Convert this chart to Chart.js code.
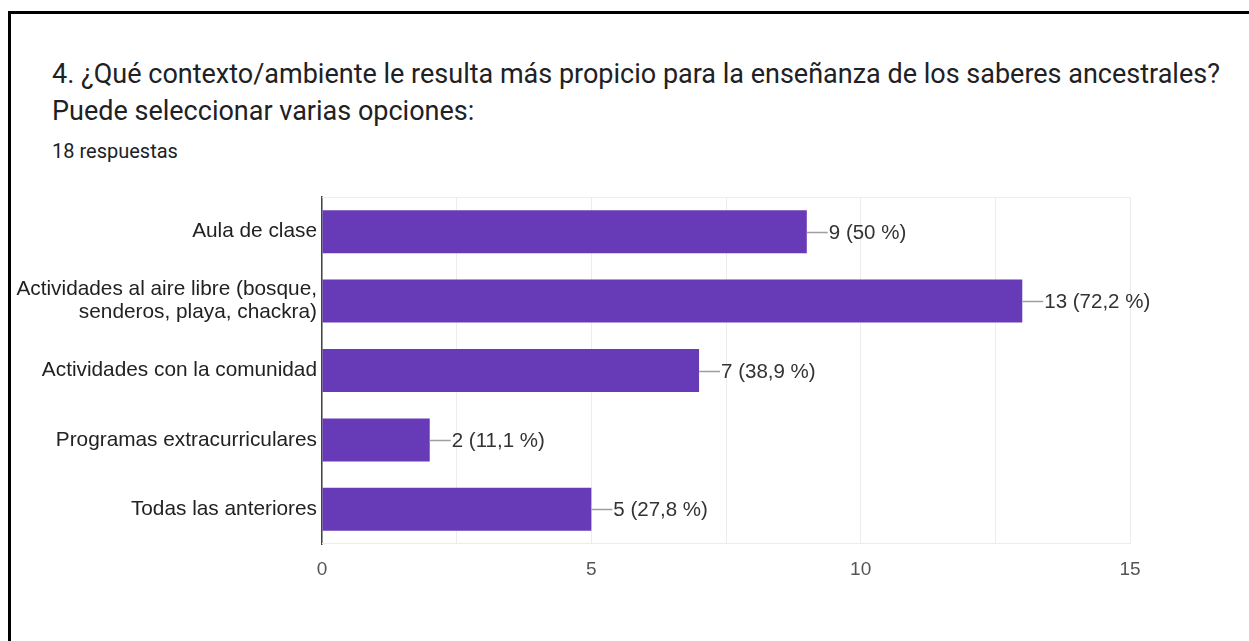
<!DOCTYPE html>
<html>
<head>
<meta charset="utf-8">
<script src="https://cdn.jsdelivr.net/npm/chart.js@4.4.1/dist/chart.umd.min.js"></script>
<style>
  html, body { margin: 0; padding: 0; background: #ffffff; }
  body { width: 1249px; height: 641px; position: relative; overflow: hidden; }
  #frame { position: absolute; left: 8px; top: 11px; width: 1300px; height: 700px;
           border-top: 3px solid #000; border-left: 3px solid #000; box-sizing: border-box; }
  .t { position: absolute; left: 52px; font-family: Roboto, "Noto Sans", sans-serif; color: #202124; white-space: nowrap; }
  #t1 { top: 57px; font-size: 27px; line-height: 34px; }
  #t2 { top: 94px; font-size: 27px; line-height: 34px; }
  #t3 { top: 140px; font-size: 20px; line-height: 22px; }
  canvas { position: absolute; left: 0; top: 0; }
</style>
</head>
<body>
<div id="frame"></div>
<div class="t" id="t1">4. ¿Qué contexto/ambiente le resulta más propicio para la enseñanza de los saberes ancestrales?</div>
<div class="t" id="t2">Puede seleccionar varias opciones:</div>
<div class="t" id="t3">18 respuestas</div>
<canvas id="c" width="1249" height="641"></canvas>
<script>
const categories = [
  ["Aula de clase"],
  ["Actividades al aire libre (bosque,", "senderos, playa, chackra)"],
  ["Actividades con la comunidad"],
  ["Programas extracurriculares"],
  ["Todas las anteriores"]
];
const counts = [9, 13, 7, 2, 5];
const totalResponses = 18;
const xTickValues = [0, 5, 10, 15];

const FONT = '"Liberation Sans", Arial, sans-serif';

function pctLabel(v) {
  const p = Math.round(v / totalResponses * 1000) / 10;
  return v + " (" + String(p).replace(".", ",") + " %)";
}

const leaderPlugin = {
  id: 'leaders',
  beforeDatasetsDraw(chart) {
    const {ctx, chartArea} = chart;
    ctx.save();
    ctx.strokeStyle = '#ececec';
    ctx.lineWidth = 1;
    ctx.beginPath();
    ctx.moveTo(chartArea.left, chartArea.top + 0.5);
    ctx.lineTo(chartArea.right, chartArea.top + 0.5);
    ctx.moveTo(chartArea.left, chartArea.bottom - 0.5);
    ctx.lineTo(chartArea.right, chartArea.bottom - 0.5);
    ctx.stroke();
    ctx.restore();
  },
  afterDatasetsDraw(chart) {
    const {ctx} = chart;
    const meta = chart.getDatasetMeta(0);
    ctx.save();
    meta.data.forEach((bar, i) => {
      const x = bar.x, y = Math.round(bar.y) + 0.5;
      ctx.strokeStyle = '#9e9e9e';
      ctx.lineWidth = 1.5;
      ctx.beginPath();
      ctx.moveTo(x, y);
      ctx.lineTo(x + 21, y);
      ctx.stroke();
      ctx.fillStyle = '#333333';
      ctx.font = '20.5px ' + FONT;
      ctx.textAlign = 'left';
      ctx.textBaseline = 'middle';
      ctx.fillText(pctLabel(counts[i]), x + 22, y + 1);
    });
    ctx.restore();
  }
};

new Chart(document.getElementById('c'), {
  type: 'bar',
  data: {
    labels: categories,
    datasets: [{
      data: counts,
      backgroundColor: '#673ab7',
      borderWidth: 0,
      barPercentage: 0.62,
      categoryPercentage: 1.0
    }]
  },
  options: {
    indexAxis: 'y',
    responsive: false,
    animation: false,
    devicePixelRatio: 1,
    layout: { padding: { left: 0, top: 197, right: 119, bottom: 0 } },
    plugins: { legend: { display: false }, tooltip: { enabled: false }, title: { display: false } },
    scales: {
      x: {
        min: 0, max: 15,
        afterFit(scale) { scale.height = 97; },
        afterBuildTicks(scale) {
          const t = [];
          for (let v = 0; v <= 15; v += 2.5) t.push({ value: v });
          scale.ticks = t;
        },
        ticks: {
          padding: 14,
          color: '#555555',
          font: { family: FONT, size: 19 },
          maxRotation: 0,
          autoSkip: false,
          callback(v) { return xTickValues.includes(v) ? String(v) : ''; }
        },
        grid: { color: '#ececec', lineWidth: 1, drawTicks: false },
        border: { display: false }
      },
      y: {
        afterFit(scale) { scale.width = 322; },
        ticks: {
          padding: 5,
          color: '#222222',
          font: { family: FONT, size: 20.8, lineHeight: 1.1 },
          autoSkip: false
        },
        grid: { display: false, drawTicks: false },
        border: { display: true, color: '#444444', width: 1.5 }
      }
    }
  },
  plugins: [leaderPlugin]
});
</script>
</body>
</html>
